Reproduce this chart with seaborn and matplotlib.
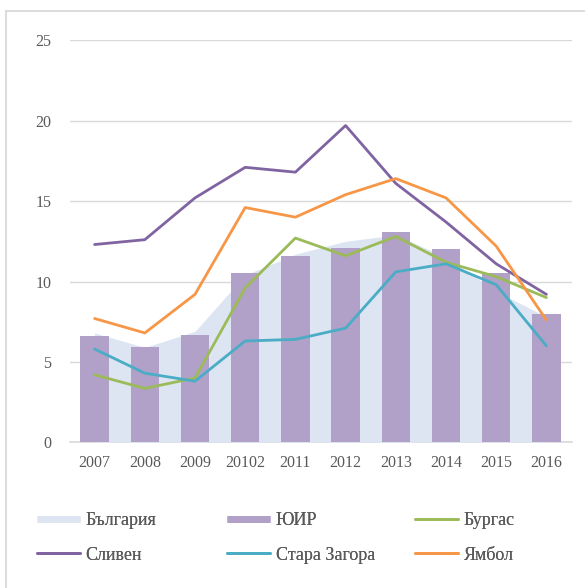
import numpy as np
import matplotlib
matplotlib.use("Agg")
import matplotlib.pyplot as plt
from matplotlib.lines import Line2D
import seaborn as sns

# ---- data ----
years = ["2007", "2008", "2009", "20102", "2011", "2012", "2013", "2014", "2015", "2016"]
bulgaria = [6.8, 5.9, 6.9, 10.4, 11.7, 12.5, 12.9, 11.5, 9.4, 7.8]
yuir = [6.6, 5.9, 6.7, 10.5, 11.6, 12.1, 13.1, 12.0, 10.5, 8.0]
burgas = [4.2, 3.35, 4.0, 9.6, 12.7, 11.6, 12.8, 11.2, 10.3, 9.0]
sliven = [12.3, 12.6, 15.2, 17.1, 16.8, 19.7, 16.1, 13.7, 11.1, 9.2]
stara_zagora = [5.8, 4.3, 3.8, 6.3, 6.4, 7.1, 10.6, 11.1, 9.8, 6.0]
yambol = [7.7, 6.8, 9.2, 14.6, 14.0, 15.4, 16.4, 15.2, 12.2, 7.6]
yticks = [0, 5, 10, 15, 20, 25]

names = ["България", "ЮИР", "Бургас", "Сливен", "Стара Загора", "Ямбол"]
c_bg = "#DCE5F1"
c_yuir = "#B1A0C7"
c_burgas = "#9BBB59"
c_sliven = "#8064A2"
c_sz = "#4BACC6"
c_yambol = "#F79646"
txt = "#595959"
grid_c = "#D9D9D9"

sns.set_style("white")
plt.rcParams["font.family"] = ["Liberation Serif", "DejaVu Serif"]

W, H = 585, 588
fig = plt.figure(figsize=(W / 100, H / 100), dpi=100)
ax = fig.add_axes([69.5 / W, 1 - 442.3 / H, 502 / W, 402 / H])

xpos = np.arange(len(years))
ax.fill_between(xpos, bulgaria, 0, color=c_bg, linewidth=0, zorder=1)
sns.barplot(x=years, y=yuir, color=c_yuir, saturation=1, width=0.565,
            ax=ax, zorder=2, linewidth=0)
for vals, col in [(burgas, c_burgas), (sliven, c_sliven),
                  (stara_zagora, c_sz), (yambol, c_yambol)]:
    sns.lineplot(x=xpos, y=vals, color=col, linewidth=2.0, ax=ax, zorder=3)

ax.set_xlim(-0.5, len(years) - 0.5)
ax.set_ylim(0, 25)
ax.set_yticks(yticks)
ax.set_xticks(xpos)
ax.set_xticklabels(years)
ax.yaxis.grid(True, color=grid_c, linewidth=1.0, zorder=0)
ax.set_axisbelow(True)
for s in ["top", "right", "left"]:
    ax.spines[s].set_visible(False)
ax.spines["bottom"].set_color(grid_c)
ax.spines["bottom"].set_linewidth(1.2)
ax.spines["bottom"].set_zorder(0.5)
ax.tick_params(axis="both", length=0, labelsize=11.5, labelcolor=txt)
ax.tick_params(axis="y", pad=13)
ax.tick_params(axis="x", pad=9)
ax.set_xlabel("")
ax.set_ylabel("")

# outer chart border (left and top visible)
fig.add_artist(Line2D([5.5 / W, 5.5 / W], [1 - 10.5 / H, 0], transform=fig.transFigure,
                      color=grid_c, linewidth=1.3))
fig.add_artist(Line2D([5.5 / W, 1], [1 - 10.5 / H, 1 - 10.5 / H], transform=fig.transFigure,
                      color=grid_c, linewidth=1.3))

# legend: three columns, two rows
h_bg = Line2D([], [], color=c_bg, linewidth=5, solid_capstyle="butt")
h_yuir = Line2D([], [], color=c_yuir, linewidth=5, solid_capstyle="butt")
h_burgas = Line2D([], [], color=c_burgas, linewidth=2)
h_sliven = Line2D([], [], color=c_sliven, linewidth=2)
h_sz = Line2D([], [], color=c_sz, linewidth=2)
h_yambol = Line2D([], [], color=c_yambol, linewidth=2)
columns = [([h_bg, h_sliven], [names[0], names[3]], 37),
           ([h_yuir, h_sz], [names[1], names[4]], 227),
           ([h_burgas, h_yambol], [names[2], names[5]], 415)]
for hs, ls, xpx in columns:
    leg = fig.legend(hs, ls, loc="center left", bbox_to_anchor=(xpx / W, 1 - 538 / H),
                     frameon=False, fontsize=13, handlelength=2.4, handletextpad=0.3,
                     borderpad=0, borderaxespad=0, labelspacing=0.95, labelcolor=txt)
    fig.add_artist(leg)

fig.savefig("out.png", dpi=100)
